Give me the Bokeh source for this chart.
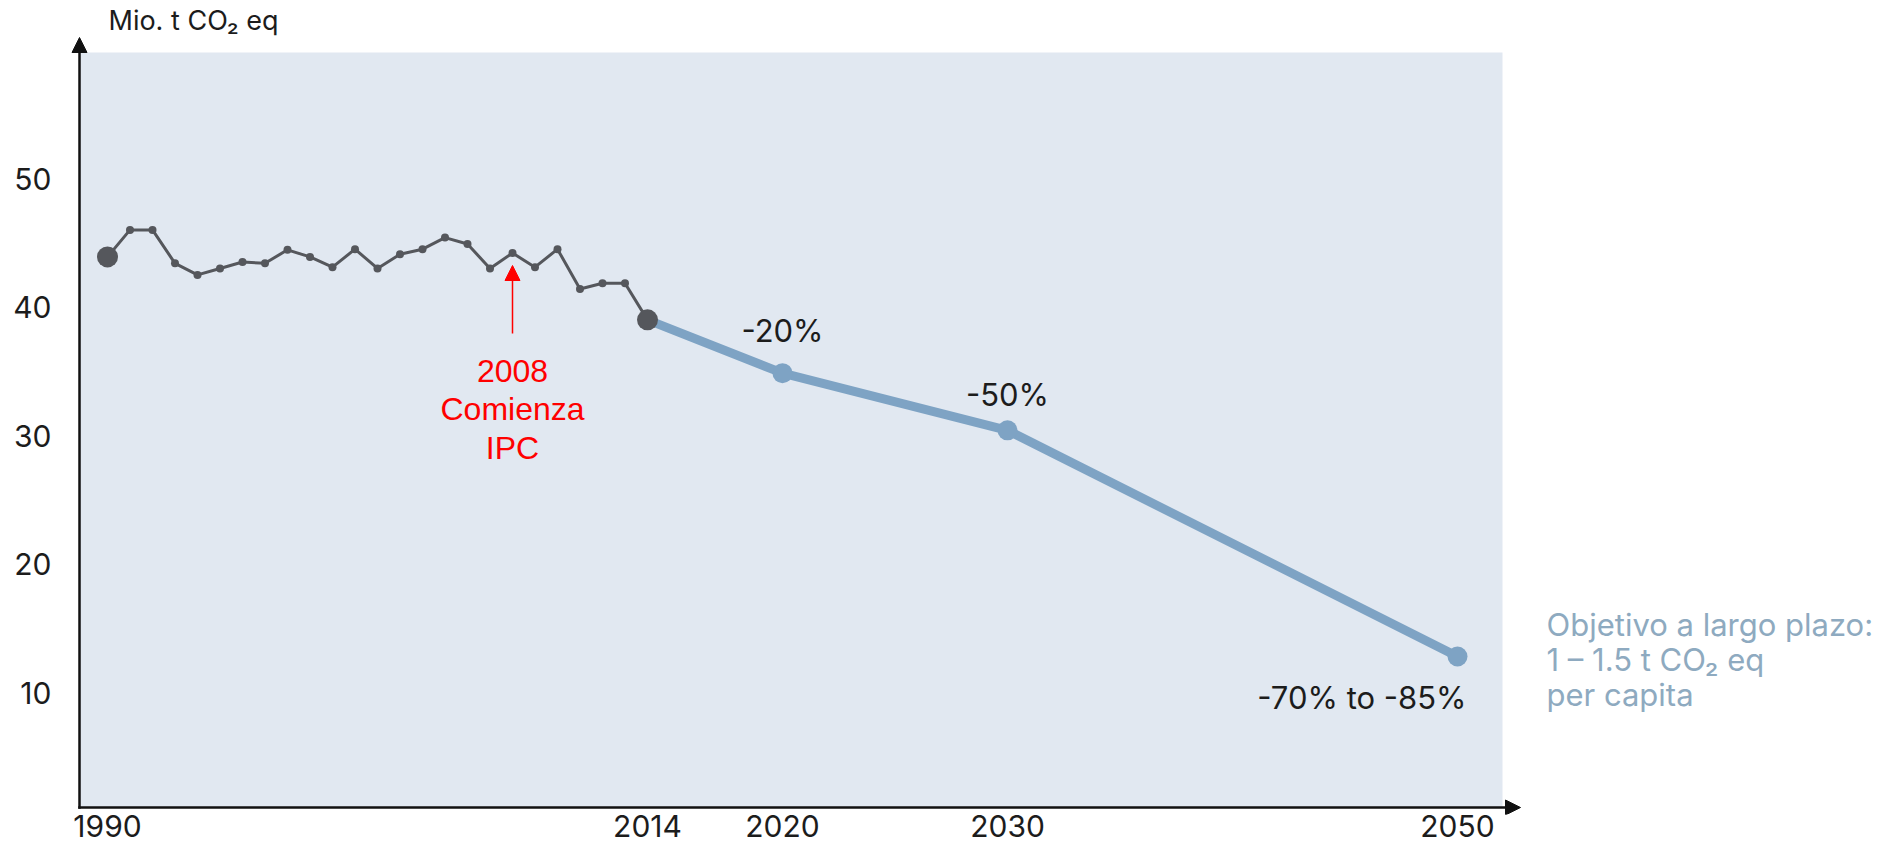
from bokeh.plotting import figure
from bokeh.models import Range1d, FixedTicker, Label, Arrow, NormalHead, BoxAnnotation
from bokeh.embed import file_html
from bokeh.resources import INLINE

# ---------------- data ----------------
years_hist = [1990, 1991, 1992, 1993, 1994, 1995, 1996, 1997, 1998, 1999,
              2000, 2001, 2002, 2003, 2004, 2005, 2006, 2007, 2008, 2009,
              2010, 2011, 2012, 2013, 2014]
emissions_hist = [43.9, 46.0, 46.0, 43.4, 42.5, 43.0, 43.5, 43.4, 44.45, 43.9,
                  43.1, 44.5, 43.0, 44.1, 44.5, 45.4, 44.9, 43.0, 44.2, 43.1,
                  44.5, 41.4, 41.85, 41.85, 39.0]
years_target = [2014, 2020, 2030, 2050]
emissions_target = [39.0, 34.85, 30.4, 12.8]
target_labels = ["-20%", "-50%", "-70% to -85%"]
x_ticks = [1990, 2014, 2020, 2030, 2050]
y_ticks = [10, 20, 30, 40, 50]
y_title = "Mio. t CO\u2082 eq"
ipc_year = 2008
ipc_note = ["2008", "Comienza", "IPC"]
goal_note = ["Objetivo a largo plazo:", "1 \u2013 1.5 t CO\u2082 eq", "per capita"]

# ---------------- page geometry helpers ----------------
PX_YEAR = 22.5
X1990 = 107.0
PX_UNIT = 12.85
Y_ZERO = 820.5


def xv(px):
    return 1990 + (px - X1990) / PX_YEAR


def yv(py):
    return (Y_ZERO - py) / PX_UNIT


FONT = "Inter"
DARK = "#1c1c1c"
GREY = "#55575c"
BLUE = "#7ea3c4"
GOAL = "#8eaac0"
AXIS = "#111111"

W, H = 1884, 851
FRAME_L, FRAME_B = 60, 814
p = figure(width=W, height=H,
           x_range=Range1d(xv(FRAME_L), xv(W)),
           y_range=Range1d(yv(FRAME_B), yv(0)),
           min_border_left=FRAME_L, min_border_right=0,
           min_border_top=0, min_border_bottom=H - FRAME_B,
           output_backend="svg", toolbar_location=None)
p.background_fill_color = "white"
p.border_fill_color = "white"
p.outline_line_color = None
p.xgrid.visible = False
p.ygrid.visible = False

# plot area shading
p.add_layout(BoxAnnotation(left=xv(79), right=xv(1502), bottom=yv(807), top=yv(52),
                           fill_color="#e1e8f1", fill_alpha=1.0, line_color=None,
                           level="underlay"))

# axes (labels only; lines drawn as arrows)
for ax in (p.xaxis[0], p.yaxis[0]):
    ax.axis_line_color = None
    ax.major_tick_line_color = None
    ax.minor_tick_line_color = None
    ax.major_tick_out = 0
    ax.major_tick_in = 0
    ax.major_label_text_font = FONT
    ax.major_label_text_color = DARK

p.xaxis.ticker = FixedTicker(ticks=x_ticks)
p.xaxis.major_label_text_font_size = "30px"
p.xaxis.major_label_standoff = 0

p.yaxis.ticker = FixedTicker(ticks=y_ticks)
p.yaxis.major_label_text_font_size = "30px"
p.yaxis.major_label_standoff = 9

# axis lines with arrow heads
p.add_layout(Arrow(x_start=xv(79), y_start=yv(807), x_end=xv(79), y_end=yv(37),
                   line_color=AXIS, line_width=2.5, line_cap="square",
                   end=NormalHead(size=15, fill_color=AXIS, line_color=AXIS, line_width=1)))
p.add_layout(Arrow(x_start=xv(79), y_start=yv(807), x_end=xv(1520), y_end=yv(807),
                   line_color=AXIS, line_width=2.5, line_cap="square",
                   end=NormalHead(size=15, fill_color=AXIS, line_color=AXIS, line_width=1)))

# target path
p.line(years_target, emissions_target, line_color=BLUE, line_width=9, line_join="round")
p.scatter(years_target[1:], emissions_target[1:], size=20, fill_color=BLUE, line_color=None)

# historic path
p.line(years_hist, emissions_hist, line_color=GREY, line_width=3, line_join="round")
p.scatter(years_hist[1:-1], emissions_hist[1:-1], size=8, fill_color=GREY, line_color=None)
p.scatter([years_hist[0], years_hist[-1]], [emissions_hist[0], emissions_hist[-1]],
          size=21, fill_color=GREY, line_color=None)

# percent labels
off_up = [43, 36]
for yr, val, txt, dy in zip(years_target[1:3], emissions_target[1:3], target_labels[:2], off_up):
    p.add_layout(Label(x=yr, y=val + dy / PX_UNIT, text=txt, text_font=FONT,
                       text_font_size="31px", text_color=DARK,
                       text_align="center", text_baseline="middle"))
p.add_layout(Label(x=years_target[3] + 9 / PX_YEAR, y=emissions_target[3] - 41 / PX_UNIT,
                   text=target_labels[2], text_font=FONT, text_font_size="31px",
                   text_color=DARK, text_align="right", text_baseline="middle"))

# IPC annotation
p.add_layout(Arrow(x_start=ipc_year, y_start=yv(333), x_end=ipc_year, y_end=yv(265),
                   line_color="#ff0000", line_width=1.5,
                   end=NormalHead(size=15, fill_color="#ff0000", line_color="#ff0000")))
for i, line in enumerate(ipc_note):
    p.add_layout(Label(x=ipc_year, y=yv(370 + 38.5 * i), text=line,
                       text_font="Liberation Sans", text_font_size="32px",
                       text_color="#ff0000", text_align="center", text_baseline="middle"))

# y title
p.add_layout(Label(x=xv(108), y=yv(20), text=y_title, text_font=FONT,
                   text_font_size="27px", text_color=DARK,
                   text_align="left", text_baseline="middle"))

# goal note
for i, line in enumerate(goal_note):
    p.add_layout(Label(x=xv(1546), y=yv(624 + 35 * i), text=line, text_font=FONT,
                       text_font_size="31px", text_color=GOAL,
                       text_align="left", text_baseline="middle"))

open("out.html", "w").write(file_html(p, INLINE))
